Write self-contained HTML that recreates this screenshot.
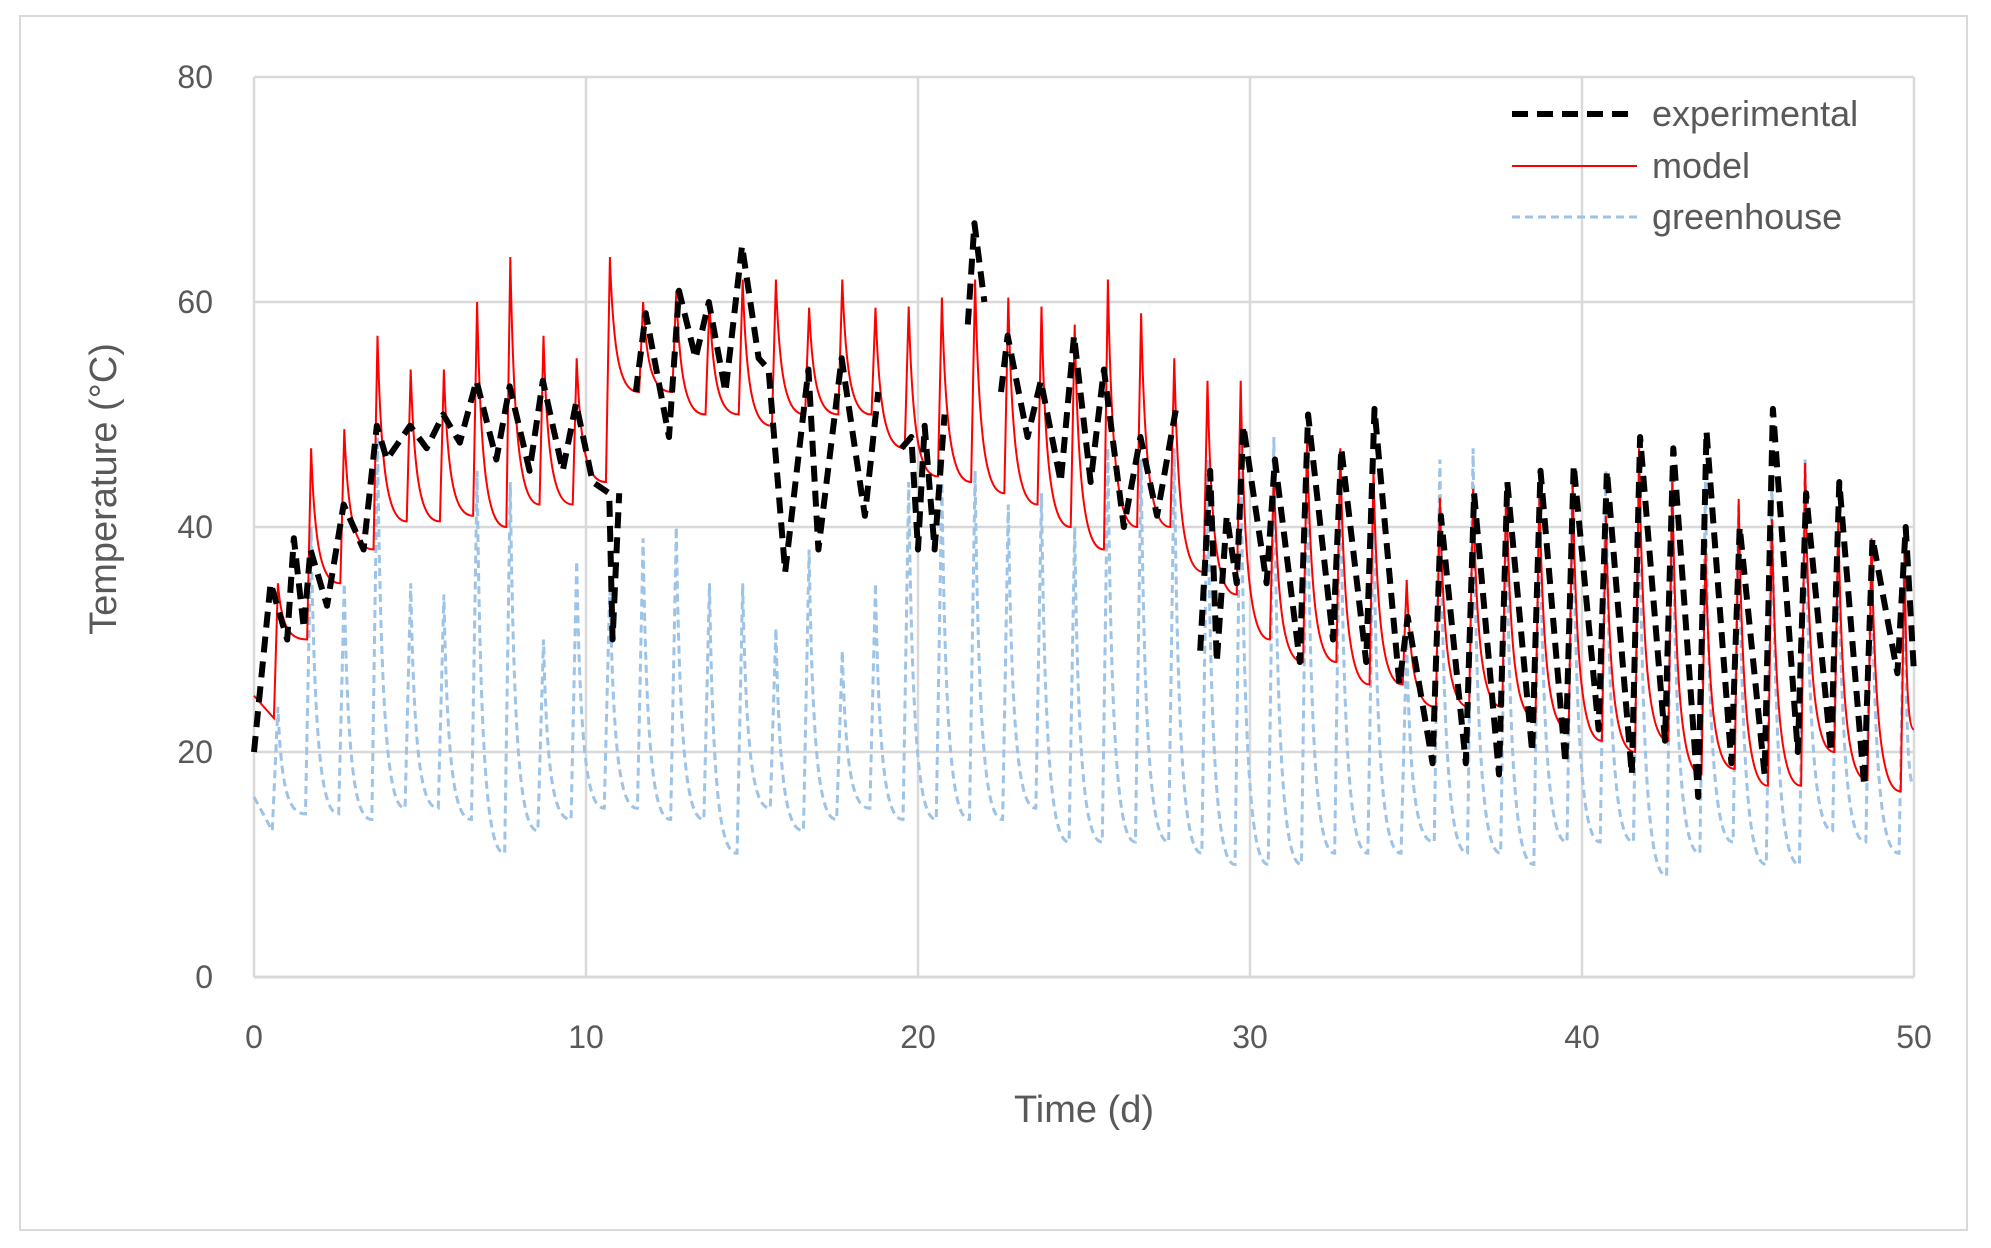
<!DOCTYPE html>
<html><head><meta charset="utf-8"><style>
html,body{margin:0;padding:0;background:#fff;}
svg{display:block;font-family:"Liberation Sans",sans-serif;}
</style></head><body>
<svg id="chart" width="1991" height="1248" viewBox="0 0 1991 1248">
<rect x="20" y="16" width="1947" height="1214" fill="#fff" stroke="#d9d9d9" stroke-width="2"/>
<g id="grid"></g>
<g id="ticks"></g>
<g id="series"></g>
<text x="1084" y="1122" font-size="38" fill="#595959" text-anchor="middle">Time (d)</text>
<text transform="translate(116,489) rotate(-90)" font-size="38" fill="#595959" text-anchor="middle">Temperature (°C)</text>
<g>
<g>
<line x1="1512" y1="114" x2="1637" y2="114" stroke="#000" stroke-width="6" stroke-dasharray="16,9"/>
<text x="1652" y="126" font-size="36" fill="#595959">experimental</text></g>
<g>
<line x1="1512" y1="166" x2="1637" y2="166" stroke="#ff0000" stroke-width="2"/>
<text x="1652" y="178" font-size="36" fill="#595959">model</text></g>
<g>
<line x1="1512" y1="217" x2="1637" y2="217" stroke="#9dc3e6" stroke-width="3" stroke-dasharray="8,5"/>
<text x="1652" y="229" font-size="36" fill="#595959">greenhouse</text></g>
</g>
</svg>
<script>
const xTicks=[0,10,20,30,40,50];
const yTicks=[0,20,40,60,80];
const modelPeakV=[35,47,48.7,57,54,54,60,64,57,55,64,60,61,60,62,62,59.5,62,59.5,59.6,60.4,62,60.4,59.6,58,62,59,55,53,53,45,48,47,45,35.3,42.6,43.4,44,43,44,41,47,44,38,42.5,40.7,45.7,40.6,39,38.4];
const modelTroughV=[23,30,35,38,40.5,40.5,41,40,42,42,44,52,52,50,50,49,50,50,50,47,44.5,44,43,42,40,38,40,40,36,34,30,28,28,26,26,24,24,24,23,22,21,20,21,18,18.5,17,17,20,17.5,16.5];
const ghPeakV=[24,40,35,48,35,34,45,44,30,37,35,39,40,35,35,31,38,29,35,44,44,45,42,43,40,47,46,47,46,48,48,47,46,42,30,46,47,43,44,45,45,45,45,44,42,44,46,40,38,38];
const ghTroughV=[13,14.5,14.5,14,15,15,14,11,13,14,15,15,14,14,11,15,13,14,15,14,14,14,14,15,12,12,12,12,11,10,10,10,11,11,11,12,11,11,10,12,12,12,9,11,12,10,10,13,12,11];
const expT=[0,0.5,1,1.2,1.5,1.7,2.2,2.7,3.3,3.7,4,4.7,5.2,5.7,6.2,6.7,7.3,7.7,8.3,8.7,9.3,9.7,10.2,10.7,10.8,11.0,null,11.5,11.8,12.5,12.8,13.3,13.7,14.2,14.7,15.2,15.5,16.0,16.7,17.0,17.7,18.4,18.8,null,19.5,19.8,20,20.2,20.5,20.8,null,21.5,21.7,22.0,null,22.5,22.7,23.3,23.7,24.3,24.7,25.2,25.6,26.2,26.7,27.2,27.8,null,28.5,28.8,29.0,29.3,29.6,29.8,30.5,30.75,31.5,31.75,32.5,32.75,33.5,33.75,34.5,34.75,35.5,35.75,36.5,36.75,37.5,37.75,38.5,38.75,39.5,39.75,40.5,40.75,41.5,41.75,42.5,42.75,43.5,43.75,44.5,44.75,45.5,45.75,46.5,46.75,47.5,47.75,48.5,48.75,49.5,49.75,50];
const expV=[20,35,30,39,31,38,33,42,38,49,46,49,47,50,47.5,53,46,52.5,45,53,45,51,44,43,30,43,null,52,59,48,61,55,60,52,65,55,54,36,54,38,55,41,52,null,47,48,38,49,38,50,null,58,67,60,null,52,57,48,53,44,57,44,54,40,48,41,51,null,29,45,28,41,35,49,35,46,28,50,30,47,28,50.5,26,32,19,41,19,43,18,44,20,45,19,45.5,22,45,18,48,21,47,16,48.5,19,40,18,50.5,20,43,20,44,17,39,27,40,27];

const L=254,R=1914,T=77,B=977;
const X=t=>L+(t/50)*(R-L);
const Y=v=>B-(v/80)*(B-T);
const NS="http://www.w3.org/2000/svg";
function mk(tag,attrs,parent){const e=document.createElementNS(NS,tag);for(const k in attrs)e.setAttribute(k,attrs[k]);parent.appendChild(e);return e;}
const grid=document.getElementById('grid'),ticks=document.getElementById('ticks'),series=document.getElementById('series');
yTicks.forEach(v=>{
  const g=mk('line',{x1:L,x2:R,y1:Y(v),y2:Y(v),stroke:'#d9d9d9','stroke-width':v===0?3:2.5},grid);
  
  
  const t=mk('text',{x:213,y:Y(v)+11,'font-size':32,fill:'#595959','text-anchor':'end'},ticks);
  t.textContent=v;
  
  
});
xTicks.forEach(v=>{
  const g=mk('line',{x1:X(v),x2:X(v),y1:T,y2:B,stroke:'#d9d9d9','stroke-width':2.5},grid);
  
  
  const t=mk('text',{x:X(v),y:1048,'font-size':32,fill:'#595959','text-anchor':'middle'},ticks);
  t.textContent=v;
  
  
});
// trough placed at day i + tOff, peak at day i + pOff
function cyclePath(peaks,troughs,tOff,pOff,startV,endV){
  let d='';let prev=null;
  for(let i=0;i<peaks.length;i++){
    const tr={x:X(i+tOff),y:Y(troughs[i])};
    const pk={x:X(i+pOff),y:Y(peaks[i])};
    if(!prev){d+=`M${X(0)},${Y(startV)} L${tr.x},${tr.y}`;}
    else {const dx=tr.x-prev.x;d+=` C${prev.x+dx*0.12},${prev.y+(tr.y-prev.y)*0.75} ${prev.x+dx*0.35},${tr.y} ${tr.x},${tr.y}`;}
    d+=` L${pk.x},${pk.y}`;
    prev=pk;
  }
  const ex=X(50),ey=Y(endV),dx=ex-prev.x;
  d+=` C${prev.x+dx*0.12},${prev.y+(ey-prev.y)*0.75} ${prev.x+dx*0.35},${ey} ${ex},${ey}`;
  return d;
}
const gh=mk('path',{d:cyclePath(ghPeakV,ghTroughV,0.55,0.72,16,17),fill:'none',stroke:'#9dc3e6','stroke-width':3,'stroke-dasharray':'8,5'},series);


const md=mk('path',{d:cyclePath(modelPeakV,modelTroughV,0.6,0.72,25,22),fill:'none',stroke:'#ff0000','stroke-width':2},series);


let ed='',pen=false;
for(let i=0;i<expT.length;i++){
  if(expT[i]===null||expV[i]===null){pen=false;continue;}
  ed+=(pen?' L':' M')+X(expT[i])+','+Y(expV[i]);pen=true;
}
const ex=mk('path',{d:ed,fill:'none',stroke:'#000','stroke-width':6,'stroke-dasharray':'16,9','stroke-linejoin':'round'},series);


</script>
</body></html>
